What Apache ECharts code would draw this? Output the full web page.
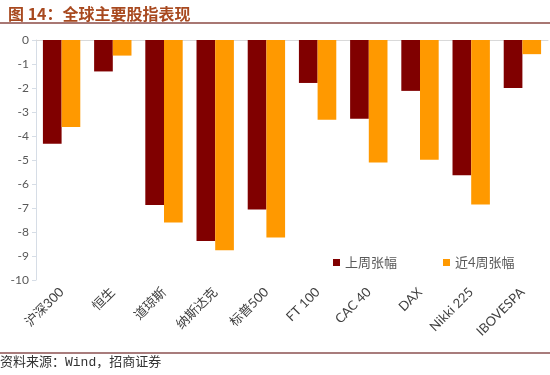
<!DOCTYPE html>
<html>
<head>
<meta charset="utf-8">
<script src="https://cdn.jsdelivr.net/npm/echarts@6/dist/echarts.min.js"></script>
<style>
html,body{margin:0;padding:0;background:#fff;}
#c{width:550px;height:375px;}
</style>
</head>
<body>
<div id="c"></div>
<script>
const categories = ['沪深300','恒生','道琼斯','纳斯达克','标普500','FT 100','CAC 40','DAX','Nikki 225','IBOVESPA'];
const lastWeek = [-4.32,-1.31,-6.87,-8.37,-7.06,-1.79,-3.28,-2.12,-5.64,-2.0];
const last4Weeks = [-3.63,-0.65,-7.6,-8.76,-8.23,-3.32,-5.1,-4.99,-6.85,-0.59];
const seriesNames = ['上周张幅','近4周张幅'];
const titleText = '图 14：全球主要股指表现';
const sourceText = '资料来源：Wind，招商证券';

const font = 'Lato, "Noto Sans CJK SC", sans-serif';
const chart = echarts.init(document.getElementById('c'));
chart.setOption({
  animation: false,
  backgroundColor: '#fff',
  title: {
    text: titleText, left: 3, top: 1,
    textStyle: {color: '#a8491f', fontSize: 16, fontWeight: 'bold', fontFamily: '"Noto Sans CJK SC", sans-serif'}
  },
  graphic: [
    {type: 'line', shape: {x1: 0, y1: 23, x2: 550, y2: 23}, style: {stroke: '#8b4a44', lineWidth: 1.5}},
    {type: 'line', shape: {x1: 0, y1: 353, x2: 550, y2: 353}, style: {stroke: '#8b5050', lineWidth: 1.5}},
    {type: 'text', left: 0, top: 356, style: {text: sourceText, fill: '#333', fontSize: 13, fontFamily: '"Liberation Mono", "Noto Sans CJK SC", monospace'}}
  ],
  legend: {
    left: 328, top: 251, itemWidth: 7, itemHeight: 7, itemGap: 46, icon: 'rect',
    textStyle: {color: '#595959', fontSize: 13, fontFamily: font}
  },
  grid: {left: 36, right: 2, top: 40, bottom: 95},
  xAxis: [{
    type: 'category', data: categories, position: 'bottom',
    axisLine: {show: false, onZero: false}, axisTick: {show: false},
    axisLabel: {rotate: 45, interval: 0, margin: 10, color: '#404040', fontSize: 13, fontFamily: font}
  }, {
    type: 'category', data: categories, position: 'top',
    axisLine: {show: true, lineStyle: {color: '#d9d9d9'}}, axisTick: {show: false}, axisLabel: {show: false}
  }],
  yAxis: {
    type: 'value', min: -10, max: 0, interval: 1,
    axisLine: {show: true, lineStyle: {color: '#d6dde6'}},
    axisTick: {show: true, length: 4, lineStyle: {color: '#d6dde6'}},
    splitLine: {show: false},
    axisLabel: {color: '#595959', fontSize: 12, margin: 7, fontFamily: font}
  },
  series: [
    {name: seriesNames[0], type: 'bar', data: lastWeek, itemStyle: {color: '#800000'}, barGap: '0%', barCategoryGap: '27%'},
    {name: seriesNames[1], type: 'bar', data: last4Weeks, itemStyle: {color: '#ff9900'}, barGap: '0%', barCategoryGap: '27%'}
  ]
});
</script>
</body>
</html>
